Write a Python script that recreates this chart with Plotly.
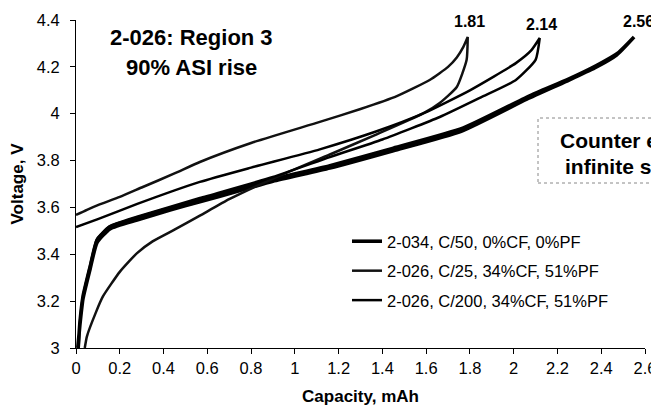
import plotly.graph_objects as go

# ---------------- data ----------------
series_names = ["2-034, C/50, 0%CF, 0%PF",
                "2-026, C/25, 34%CF, 51%PF",
                "2-026, C/200, 34%CF, 51%PF"]

# 2-034, C/50 (loop to 2.56 mAh) - charge and discharge nearly overlap
cap_034_chg = [0.01, 0.018, 0.032, 0.064, 0.096, 0.155, 0.279, 0.43, 0.566, 0.75, 0.9, 1.16, 1.45, 1.767, 2.07, 2.25, 2.38, 2.48, 2.55]
v_034_chg   = [3.0, 3.11, 3.22, 3.345, 3.46, 3.517, 3.555, 3.597, 3.632, 3.68, 3.72, 3.778, 3.853, 3.938, 4.075, 4.148, 4.207, 4.262, 4.327]
cap_034_dis = [2.55, 2.47, 2.37, 2.24, 2.06, 1.76, 1.45, 1.16, 0.9, 0.75, 0.566, 0.43, 0.279, 0.155, 0.096, 0.064, 0.032, 0.018, 0.008]
v_034_dis   = [4.327, 4.25, 4.195, 4.138, 4.062, 3.925, 3.842, 3.768, 3.712, 3.672, 3.624, 3.589, 3.546, 3.508, 3.45, 3.335, 3.21, 3.1, 3.0]

# 2-026, C/25 (loop to 1.81 mAh)
cap_c25_chg = [0.0, 0.05, 0.1, 0.2, 0.3, 0.45, 0.566, 0.8, 1.114, 1.3, 1.466, 1.616, 1.7, 1.74, 1.77, 1.79]
v_c25_chg   = [3.568, 3.59, 3.61, 3.645, 3.685, 3.745, 3.794, 3.875, 3.965, 4.02, 4.075, 4.144, 4.2, 4.24, 4.285, 4.327]
cap_c25_dis = [1.79, 1.785, 1.74, 1.662, 1.584, 1.374, 1.16, 0.886, 0.7, 0.566, 0.45, 0.35, 0.279, 0.2, 0.123, 0.09, 0.05, 0.04]
v_c25_dis   = [4.327, 4.23, 4.114, 4.046, 4.0, 3.912, 3.826, 3.717, 3.635, 3.565, 3.505, 3.455, 3.405, 3.325, 3.22, 3.15, 3.05, 3.0]

# 2-026, C/200 (loop to 2.14 mAh)
cap_c200_chg = [0.0, 0.1, 0.28, 0.566, 0.8, 1.114, 1.374, 1.584, 1.8, 2.01, 2.08, 2.119]
v_c200_chg   = [3.516, 3.55, 3.615, 3.709, 3.77, 3.848, 3.925, 4.0, 4.1, 4.216, 4.27, 4.323]
cap_c200_dis = [2.119, 2.1, 2.01, 1.85, 1.662, 1.4, 1.16, 0.9, 0.566, 0.279, 0.155, 0.096, 0.064, 0.032, 0.018, 0.012]
v_c200_dis   = [4.323, 4.23, 4.144, 4.07, 3.986, 3.89, 3.815, 3.73, 3.64, 3.56, 3.52, 3.465, 3.35, 3.22, 3.11, 3.0]

end_caps = ["1.81", "2.14", "2.56"]

x_ticks = [0, 0.2, 0.4, 0.6, 0.8, 1, 1.2, 1.4, 1.6, 1.8, 2, 2.2, 2.4, 2.6]
y_ticks = [3, 3.2, 3.4, 3.6, 3.8, 4, 4.2, 4.4]

# ---------------- figure ----------------
# The page body has an 8px default margin, so the figure is sized/offset to compensate.
FONT = "Liberation Sans, Arial, sans-serif"
PL, PT, PW, PH = 68, 12, 569, 328   # plot area inside the figure (figure drawn at +8,+8)

def px_x(p):   # page pixel -> paper x
    return (p - 8 - PL) / PW

def px_y(p):   # page pixel -> paper y
    return (PT + PH - (p - 8)) / PH

fig = go.Figure()
fig.add_trace(go.Scatter(x=cap_034_chg + cap_034_dis, y=v_034_chg + v_034_dis,
                         mode="lines", name=series_names[0], legendgroup="a",
                         line=dict(color="black", width=3.6, shape="spline", smoothing=0.5)))
fig.add_trace(go.Scatter(x=cap_c25_chg + cap_c25_dis, y=v_c25_chg + v_c25_dis,
                         mode="lines", name=series_names[1], legendgroup="b",
                         line=dict(color="#111111", width=2.5, shape="spline", smoothing=0.5)))
fig.add_trace(go.Scatter(x=cap_c200_chg + cap_c200_dis, y=v_c200_chg + v_c200_dis,
                         mode="lines", name=series_names[2], legendgroup="c",
                         line=dict(color="black", width=2.5, shape="spline", smoothing=0.5)))

annos = []
annos.append(dict(x=px_x(191), y=px_y(37), text="<b>2-026: Region 3</b>",
                  font=dict(family=FONT, size=22, color="black")))
annos.append(dict(x=px_x(191), y=px_y(67), text="<b>90% ASI rise</b>",
                  font=dict(family=FONT, size=22, color="black")))
for lab, px, py in zip(end_caps, [469, 541, 638], [21, 24, 21]):
    annos.append(dict(x=px_x(px), y=px_y(py), text="<b>%s</b>" % lab,
                      font=dict(family=FONT, size=16, color="black")))
annos.append(dict(x=px_x(558), y=px_y(140), xanchor="left",
                  text="<b>Counter e</b>", font=dict(family=FONT, size=21, color="black")))
annos.append(dict(x=px_x(563), y=px_y(167), xanchor="left",
                  text="<b>infinite s</b>", font=dict(family=FONT, size=21, color="black")))
for a in annos:
    a.setdefault("xanchor", "center")
    a.update(xref="paper", yref="paper", yanchor="middle", showarrow=False)

shapes = [
    dict(type="rect", xref="paper", yref="paper", x0=px_x(538), x1=px_x(700),
         y0=px_y(183), y1=px_y(118),
         line=dict(color="#888888", width=1, dash="dot")),
]

fig.update_layout(
    width=651, height=405,
    margin=dict(l=PL, r=651 - PL - PW, t=PT, b=405 - PT - PH, autoexpand=False),
    paper_bgcolor="white", plot_bgcolor="white",
    font=dict(family=FONT, size=16, color="black"),
    showlegend=True,
    legend=dict(x=px_x(347), y=px_y(224), xanchor="left", yanchor="top",
                bgcolor="rgba(0,0,0,0)", font=dict(family=FONT, size=16.5, color="black"),
                tracegroupgap=5, itemwidth=30),
    annotations=annos,
    shapes=shapes,
    xaxis=dict(range=[0, 2.6], tickvals=x_ticks, ticktext=[("%g" % t) for t in x_ticks],
               showgrid=False, zeroline=False, showline=True, linecolor="black", linewidth=1,
               ticks="outside", ticklen=5, tickcolor="black",
               tickfont=dict(family=FONT, size=16.5),
               title=dict(text="<b>Capacity, mAh</b>", font=dict(family=FONT, size=17), standoff=14)),
    yaxis=dict(range=[3, 4.4], tickvals=y_ticks, ticktext=[("%g" % t) for t in y_ticks],
               showgrid=False, zeroline=False, showline=True, linecolor="black", linewidth=1,
               ticks="outside", ticklen=5, tickcolor="black", ticklabelstandoff=7,
               tickfont=dict(family=FONT, size=16.5),
               title=dict(text="<b>Voltage, V</b>", font=dict(family=FONT, size=17), standoff=17)),
)

fig.write_html("out.html")
